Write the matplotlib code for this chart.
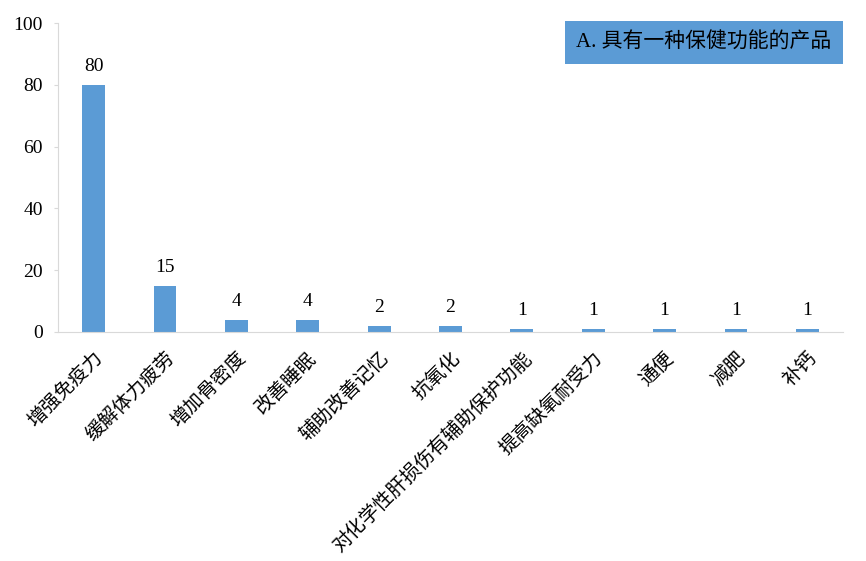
import numpy as np
import matplotlib.pyplot as plt

plt.rcParams['font.family'] = ['Liberation Serif', 'Noto Sans CJK SC', 'DejaVu Sans']

categories = ["增强免疫力", "缓解体力疲劳", "增加骨密度", "改善睡眠", "辅助改善记忆",
              "抗氧化", "对化学性肝损伤有辅助保护功能", "提高缺氧耐受力", "通便", "减肥", "补钙"]
counts = [80, 15, 4, 4, 2, 2, 1, 1, 1, 1, 1]
yticks = [0, 20, 40, 60, 80, 100]
title = "A. 具有一种保健功能的产品"

bar_color = "#5B9BD5"

fig = plt.figure(figsize=(8.66, 5.61), dpi=100)
ax = fig.add_axes([58 / 866, 1 - 332 / 561, 785 / 866, 309 / 561])

x = np.arange(len(categories))
bars = ax.bar(x, counts, width=0.32, color=bar_color)
for xi, v in zip(x, counts):
    ax.annotate(str(v), (xi, v), xytext=(0, 7), textcoords="offset points",
                ha="center", va="bottom", fontsize=14)

ax.set_xlim(-0.5, len(categories) - 0.5)
ax.set_ylim(0, 100)
ax.set_yticks(yticks)
ax.tick_params(axis="y", labelsize=14, length=3, color="#d9d9d9", pad=8)
ax.set_xticks(x)
ax.set_xticklabels(categories, rotation=45, ha="right", rotation_mode="anchor", fontsize=14)
ax.tick_params(axis="x", length=0, pad=12)

for s in ["top", "right"]:
    ax.spines[s].set_visible(False)
for s in ["left", "bottom"]:
    ax.spines[s].set_color("#d9d9d9")

ax.text(0.985, 0.937, title, transform=ax.transAxes, ha="right", va="center", fontsize=15,
        bbox=dict(boxstyle="square,pad=0.55", facecolor=bar_color, edgecolor="none"))

fig.savefig("out.png", dpi=100)
